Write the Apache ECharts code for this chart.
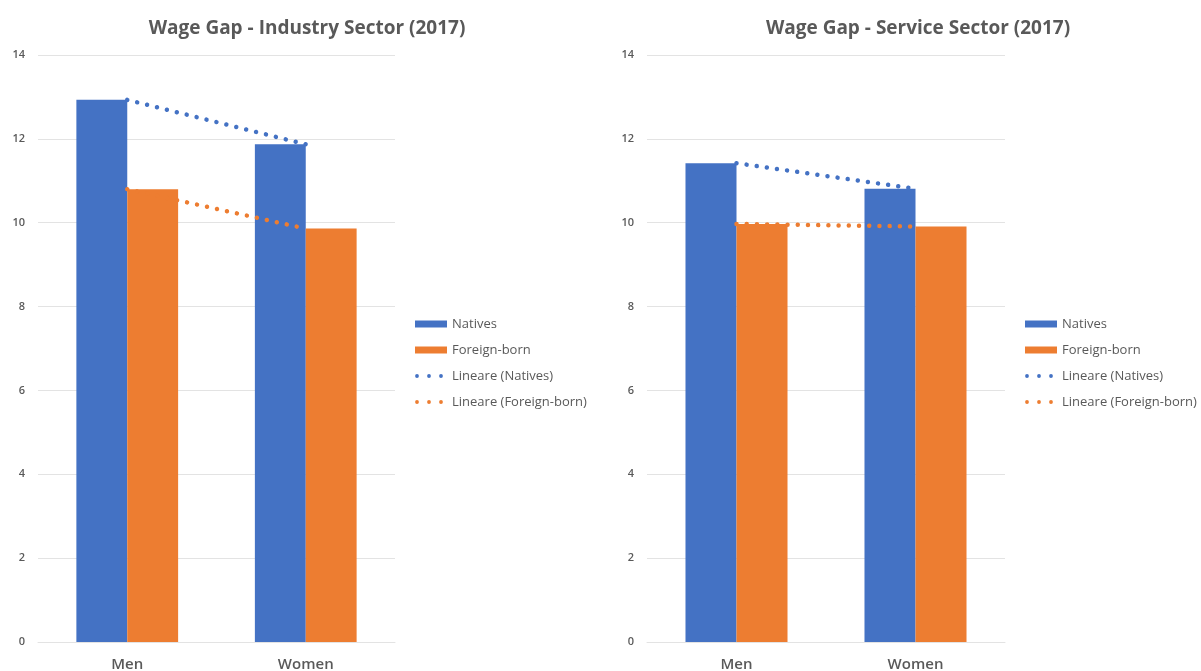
<!DOCTYPE html>
<html>
<head>
<meta charset="utf-8">
<script src="https://cdn.jsdelivr.net/npm/echarts@6/dist/echarts.min.js"></script>
<style>
  html, body { margin: 0; padding: 0; background: #ffffff; }
  #chart { width: 1201px; height: 671px; }
</style>
</head>
<body>
<div id="chart"></div>
<script>
// Wage gap by gender and origin, 2017
const categories = ['Men', 'Women'];
const industryNatives = [12.93, 11.87];
const industryForeign = [10.80, 9.86];
const serviceNatives = [11.42, 10.81];
const serviceForeign = [9.97, 9.91];
const yTicks = [0, 2, 4, 6, 8, 10, 12, 14];
const titles = ['Wage Gap - Industry Sector (2017)', 'Wage Gap - Service Sector (2017)'];
const seriesNames = ['Natives', 'Foreign-born', 'Lineare (Natives)', 'Lineare (Foreign-born)'];

// least-squares line over the category index, evaluated at each category
function linearTrend(values) {
  const n = values.length;
  const xs = values.map((_, i) => i + 1);
  const mx = xs.reduce((a, b) => a + b, 0) / n;
  const my = values.reduce((a, b) => a + b, 0) / n;
  let sxy = 0, sxx = 0;
  xs.forEach((x, i) => { sxy += (x - mx) * (values[i] - my); sxx += (x - mx) * (x - mx); });
  const slope = sxx === 0 ? 0 : sxy / sxx;
  return xs.map(x => my + slope * (x - mx));
}

const BLUE = '#4472C4';
const ORANGE = '#ED7D31';
const TEXT = '#595959';
const GRID = '#e3e3e3';
const FONT = '"Open Sans", "Liberation Sans", sans-serif';

// three round dots, laid out in a 32x7 box for the trendline legend entries
const DOTS_ICON = 'path://M0,0 M32,7 ' +
  'M0.1,3.5 a1.9,1.9 0 1,0 3.8,0 a1.9,1.9 0 1,0 -3.8,0 Z ' +
  'M12.1,3.5 a1.9,1.9 0 1,0 3.8,0 a1.9,1.9 0 1,0 -3.8,0 Z ' +
  'M24.1,3.5 a1.9,1.9 0 1,0 3.8,0 a1.9,1.9 0 1,0 -3.8,0 Z';

const grids = [
  { left: 38, width: 357, top: 55, bottom: 29, outerBoundsMode: 'none', containLabel: false },
  { left: 647, width: 358, top: 55, bottom: 29, outerBoundsMode: 'none', containLabel: false }
];

function xAxisFor(i) {
  return {
    type: 'category', gridIndex: i, data: categories,
    axisLine: { show: true, lineStyle: { color: GRID, width: 1 } },
    axisTick: { show: false },
    axisLabel: { color: TEXT, fontSize: 15, fontWeight: 600, fontFamily: FONT, margin: 15 }
  };
}
function yAxisFor(i) {
  return {
    type: 'value', gridIndex: i, min: yTicks[0], max: yTicks[yTicks.length - 1], interval: 2,
    axisLine: { show: false }, axisTick: { show: false },
    splitLine: { lineStyle: { color: GRID, width: 1 } },
    axisLabel: { color: TEXT, fontSize: 11, fontWeight: 600, fontFamily: FONT, margin: 13 }
  };
}

function barSeries(name, data, color, i) {
  return {
    name, type: 'bar', xAxisIndex: i, yAxisIndex: i, data,
    barGap: '0%', barCategoryGap: '43%',
    itemStyle: { color }, emphasis: { disabled: true }
  };
}
function trendSeries(name, data, color, i) {
  return {
    name, type: 'line', xAxisIndex: i, yAxisIndex: i, data: linearTrend(data),
    symbol: 'none', z: 5,
    lineStyle: { color, width: 4.5, type: [0.01, 10.2], cap: 'round' },
    itemStyle: { color }, emphasis: { disabled: true }
  };
}

function legendAt(left) {
  return {
    orient: 'vertical', left, top: 317, padding: 0,
    itemWidth: 32, itemHeight: 7, itemGap: 12,
    selectedMode: false,
    textStyle: { color: TEXT, fontSize: 13, fontFamily: FONT, lineHeight: 14 },
    data: [
      { name: seriesNames[0], icon: 'rect' },
      { name: seriesNames[1], icon: 'rect' },
      { name: seriesNames[2], icon: DOTS_ICON, itemStyle: { color: BLUE } },
      { name: seriesNames[3], icon: DOTS_ICON, itemStyle: { color: ORANGE } }
    ]
  };
}

const option = {
  animation: false,
  backgroundColor: '#ffffff',
  title: [
    { text: titles[0], left: 302, top: 14, textAlign: 'center',
      textStyle: { color: TEXT, fontSize: 19, fontWeight: 'bold', fontFamily: FONT } },
    { text: titles[1], left: 913, top: 14, textAlign: 'center',
      textStyle: { color: TEXT, fontSize: 19, fontWeight: 'bold', fontFamily: FONT } }
  ],
  grid: grids,
  xAxis: [xAxisFor(0), xAxisFor(1)],
  yAxis: [yAxisFor(0), yAxisFor(1)],
  legend: [legendAt(415), legendAt(1025)],
  series: [
    barSeries(seriesNames[0], industryNatives, BLUE, 0),
    barSeries(seriesNames[1], industryForeign, ORANGE, 0),
    trendSeries(seriesNames[2], industryNatives, BLUE, 0),
    trendSeries(seriesNames[3], industryForeign, ORANGE, 0),
    barSeries(seriesNames[0], serviceNatives, BLUE, 1),
    barSeries(seriesNames[1], serviceForeign, ORANGE, 1),
    trendSeries(seriesNames[2], serviceNatives, BLUE, 1),
    trendSeries(seriesNames[3], serviceForeign, ORANGE, 1)
  ]
};

echarts.init(document.getElementById('chart')).setOption(option);
</script>
</body>
</html>
